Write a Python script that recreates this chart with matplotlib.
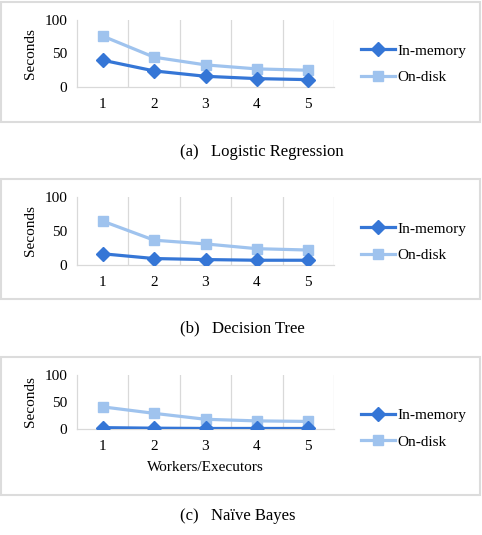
import numpy as np
import matplotlib
matplotlib.use('Agg')
import matplotlib.pyplot as plt
from matplotlib.patches import Rectangle

plt.rcParams['font.family'] = ['Liberation Serif', 'DejaVu Serif']

# Data
workers = [1, 2, 3, 4, 5]
lr_mem = [40, 24, 16, 12.5, 11]
lr_disk = [76, 44.5, 33, 27, 25]
dt_mem = [16.5, 9.5, 8, 7, 7]
dt_disk = [64.5, 36.5, 31, 24, 22]
nb_mem = [2.5, 1.5, 1, 1, 1]
nb_disk = [41, 29, 18, 15, 14]
captions = ['(a)   Logistic Regression', '(b)   Decision Tree', '(c)   Naïve Bayes']

c_mem = '#3576d6'
c_disk = '#9fc3ee'
grid_c = '#d9d9d9'
box_c = '#dcdcdc'

W, H = 482, 535
fig = plt.figure(figsize=(W / 100, H / 100), dpi=100)

# (top px, bottom px) of each plot area, and panel box (top, bottom)
axes_px = [(20, 87), (197, 265), (375, 429)]
boxes_px = [(2, 122), (179, 299), (357, 495)]
legend_px = [(51, 77), (229, 255), (415, 442)]
caption_px = [152, 328, 516]
data = [(lr_mem, lr_disk), (dt_mem, dt_disk), (nb_mem, nb_disk)]

for i in range(3):
    top, bot = axes_px[i]
    ax = fig.add_axes([77 / W, 1 - bot / H, (334 - 77) / W, (bot - top) / H])
    mem, disk = data[i]
    ax.plot(workers, mem, color=c_mem, lw=2.3, marker='D', ms=7,
            label='In-memory', zorder=4)
    ax.plot(workers, disk, color=c_disk, lw=2.3, marker='s', ms=7.5,
            label='On-disk', zorder=3)
    ax.set_xlim(0.5, 5.5)
    ax.set_ylim(0, 100)
    ax.set_yticks([0, 50, 100])
    ax.set_xticks(workers)
    for xv in np.arange(1.5, 5.6, 1):
        ax.axvline(xv, color=grid_c, lw=0.9, zorder=1)
    for s in ['top', 'right']:
        ax.spines[s].set_visible(False)
    for s in ['left', 'bottom']:
        ax.spines[s].set_color(grid_c)
        ax.spines[s].set_linewidth(0.9)
    ax.tick_params(length=0, labelsize=11)
    ax.tick_params(axis='y', pad=7)
    ax.tick_params(axis='x', pad=8)
    ax.set_ylabel('Seconds', fontsize=11, labelpad=5)
    if i == 2:
        ax.set_xlabel('Workers/Executors', fontsize=11, labelpad=6)

    # legend entries
    h = ax.get_legend_handles_labels()
    ly0, ly1 = legend_px[i]
    fig.legend(*h, loc='center left',
               bbox_to_anchor=(355 / W, 1 - (ly0 + ly1) / 2 / H),
               frameon=False, fontsize=11, handlelength=2.2, handletextpad=0.15,
               labelspacing=0.85, borderaxespad=0)

    b0, b1 = boxes_px[i]
    fig.patches.append(Rectangle((1 / W, 1 - b1 / H), 479 / W, (b1 - b0) / H,
                                 transform=fig.transFigure, fill=False,
                                 edgecolor=box_c, lw=1.5))
    fig.text(180 / W, 1 - caption_px[i] / H, captions[i], ha='left',
             va='center', fontsize=12)

fig.savefig('out.png', dpi=100)
